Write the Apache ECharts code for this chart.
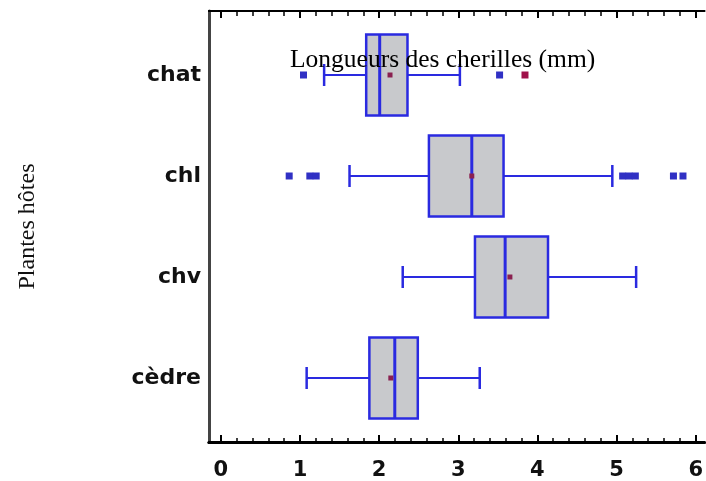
<!DOCTYPE html>
<html>
<head>
<meta charset="utf-8">
<script src="https://cdn.jsdelivr.net/npm/echarts@6/dist/echarts.min.js"></script>
<style>
html,body{margin:0;padding:0;background:#fff;}
#chart{width:706px;height:481px;}
</style>
</head>
<body>
<div id="chart"></div>
<script>
// ---- data ----
var categories = ['chat', 'chl', 'chv', 'cèdre'];
var whiskerLow  = [1.30, 1.62, 2.29, 1.08];
var q1          = [1.83, 2.62, 3.20, 1.87];
var median      = [2.00, 3.16, 3.58, 2.19];
var q3          = [2.35, 3.56, 4.12, 2.48];
var whiskerHigh = [3.01, 4.93, 5.23, 3.26];
var means       = [2.13, 3.16, 3.64, 2.14];
// outliers: [value, category]
var outliers = [
  [1.04, 'chat'], [3.51, 'chat'],
  [0.86, 'chl'], [1.12, 'chl'], [1.20, 'chl'],
  [5.06, 'chl'], [5.14, 'chl'], [5.22, 'chl'],
  [5.70, 'chl'], [5.82, 'chl']
];
var farOutliers = [[3.83, 'chat']];
var majorTicks = [0, 1, 2, 3, 4, 5, 6];
var minorTicks = [0.2,0.4,0.6,0.8,1.2,1.4,1.6,1.8,2.2,2.4,2.6,2.8,3.2,3.4,3.6,3.8,4.2,4.4,4.6,4.8,5.2,5.4,5.6,5.8,6.0];
var xTitle = 'Longueurs des cherilles (mm)';
var yTitle = 'Plantes hôtes';

// ---- build ----
var boxData = categories.map(function (c, i) {
  return [i, whiskerLow[i], q1[i], median[i], q3[i], whiskerHigh[i], means[i]];
});
var BLUE = '#2a2ae0';
var X_MIN = -0.15, X_MAX = 6.11;

var chart = echarts.init(document.getElementById('chart'), null, {renderer: 'canvas'});

function frameAxis(pos, ticks, len, width, showLabel, lineW) {
  return {
    type: 'value', gridIndex: 1, position: pos, min: X_MIN, max: X_MAX,
    splitLine: {show: false},
    axisLine: {show: true, onZero: false, lineStyle: {color: '#000', width: lineW}},
    axisTick: {show: true, inside: true, length: len, customValues: ticks, lineStyle: {color: '#000', width: width}},
    axisLabel: showLabel ? {
      show: true, customValues: majorTicks, margin: 18,
      fontFamily: 'DejaVu Sans', fontWeight: 'bold', fontSize: 21, color: '#111'
    } : {show: false}
  };
}

var option = {
  backgroundColor: '#fff',
  animation: false,
  title: {
    text: xTitle, left: 285, top: 42,
    textStyle: {fontFamily: 'Liberation Serif', fontWeight: 'normal', fontSize: 25.5, color: '#000'}
  },
  grid: [
    {left: 209, right: 0, top: 24.5, bottom: 52.5},
    {left: 209, right: 0, top: 11, bottom: 39}
  ],
  xAxis: [
    {type: 'value', gridIndex: 0, min: X_MIN, max: X_MAX, show: false},
    frameAxis('bottom', majorTicks, 7, 2, true, 3),
    frameAxis('bottom', minorTicks, 4, 1.5, false, 3),
    frameAxis('top', majorTicks, 7, 2, false, 2),
    frameAxis('top', minorTicks, 5, 1.5, false, 2)
  ],
  yAxis: [
    {
      type: 'category', gridIndex: 0, data: categories, inverse: true,
      axisLine: {show: false}, axisTick: {show: false}, splitLine: {show: false},
      axisLabel: {margin: 8, fontFamily: 'DejaVu Sans', fontWeight: 'bold', fontSize: 22, color: '#111'}
    },
    {
      type: 'value', gridIndex: 1, min: 0, max: 1, position: 'left',
      axisLine: {show: true, onZero: false, lineStyle: {color: '#444', width: 3}},
      axisTick: {show: false}, axisLabel: {show: false}, splitLine: {show: false},
      name: yTitle, nameLocation: 'middle', nameRotate: 90, nameGap: 169,
      nameTextStyle: {fontFamily: 'Liberation Serif', fontSize: 24, color: '#111'}
    }
  ],
  series: [
    {
      type: 'custom', xAxisIndex: 0, yAxisIndex: 0, z: 3,
      data: boxData,
      encode: {x: [1, 2, 3, 4, 5, 6], y: 0},
      renderItem: function (params, api) {
        var cat = api.value(0);
        var pLo = api.coord([api.value(1), cat]);
        var pQ1 = api.coord([api.value(2), cat]);
        var pMed = api.coord([api.value(3), cat]);
        var pQ3 = api.coord([api.value(4), cat]);
        var pHi = api.coord([api.value(5), cat]);
        var pMean = api.coord([api.value(6), cat]);
        var band = api.size([0, 1])[1];
        var hh = band * 0.8 / 2;
        var cy = pQ1[1];
        var capH = 11;
        var ls = {stroke: BLUE, lineWidth: 2.2};
        return {
          type: 'group',
          children: [
            {type: 'line', shape: {x1: pLo[0], y1: cy, x2: pQ1[0], y2: cy}, style: ls},
            {type: 'line', shape: {x1: pQ3[0], y1: cy, x2: pHi[0], y2: cy}, style: ls},
            {type: 'line', shape: {x1: pLo[0], y1: cy - capH, x2: pLo[0], y2: cy + capH}, style: {stroke: BLUE, lineWidth: 2.5}},
            {type: 'line', shape: {x1: pHi[0], y1: cy - capH, x2: pHi[0], y2: cy + capH}, style: {stroke: BLUE, lineWidth: 2.5}},
            {type: 'rect', shape: {x: pQ1[0], y: cy - hh, width: pQ3[0] - pQ1[0], height: 2 * hh},
              style: {fill: '#c8c9cc', stroke: BLUE, lineWidth: 2.5}},
            {type: 'line', shape: {x1: pMed[0], y1: cy - hh, x2: pMed[0], y2: cy + hh}, style: {stroke: BLUE, lineWidth: 3}},
            {type: 'rect', shape: {x: pMean[0] - 2.5, y: cy - 2.5, width: 5, height: 5}, style: {fill: '#8a2050'}}
          ]
        };
      }
    },
    {
      type: 'scatter', xAxisIndex: 0, yAxisIndex: 0, z: 4,
      symbol: 'rect', symbolSize: [7, 7],
      itemStyle: {color: '#3030c4', opacity: 1},
      data: outliers
    },
    {
      type: 'scatter', xAxisIndex: 0, yAxisIndex: 0, z: 4,
      symbol: 'rect', symbolSize: [7, 7],
      itemStyle: {color: '#a0104a', opacity: 1},
      data: farOutliers
    }
  ]
};
chart.setOption(option);
</script>
</body>
</html>
